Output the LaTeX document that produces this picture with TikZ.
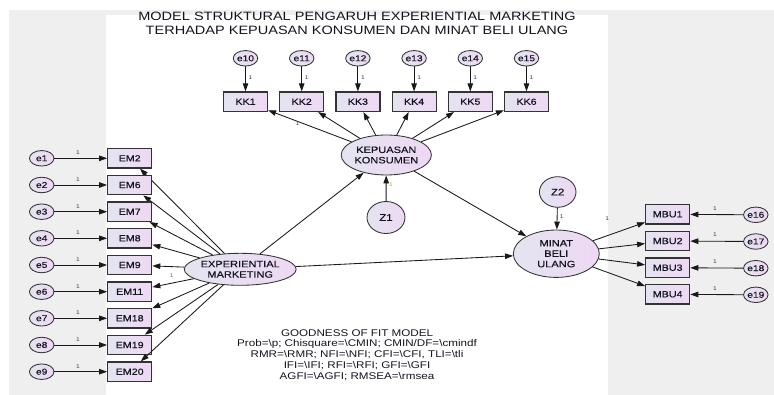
\documentclass[tikz,border=0pt]{standalone}
\usepackage{fontspec}
\setmainfont{Liberation Sans}[FakeStretch=1.2]
\newfontfamily\boxfont{Liberation Sans}[FakeStretch=1.2,FakeBold=0.3]
\usetikzlibrary{shapes.geometric,arrows.meta}
\definecolor{bg}{HTML}{EFEFEF}
\definecolor{fillL}{RGB}{228,228,240}
\definecolor{fillR}{RGB}{238,216,244}
\definecolor{edge}{HTML}{333333}
\definecolor{ink}{HTML}{141420}
\definecolor{oneblue}{HTML}{4A7AB8}
\definecolor{oneorange}{HTML}{C8A020}
\begin{document}
\begin{tikzpicture}[x=1pt,y=-1pt,
  box/.style={draw=edge,line width=1.2pt,left color=fillL,right color=fillR,minimum width=44pt,minimum height=19.5pt,inner sep=0pt,font=\boxfont\fontsize{8.9}{10}\selectfont,text=ink},
  lat/.style={ellipse,draw=edge,line width=0.85pt,left color=fillL,right color=fillR,inner sep=0pt,align=center,font=\boxfont\fontsize{9.2}{10.4}\selectfont,text=ink},
  err/.style={lat,minimum width=24.5pt,minimum height=15.5pt,font=\boxfont\fontsize{8.5}{9}\selectfont},
  arr/.style={-{Triangle[length=8pt,width=5.5pt]},line width=0.85pt,draw=black!90},
  one/.style={font=\fontsize{5.5}{6}\selectfont,text=black!75,inner sep=0pt}
]
\useasboundingbox (0,0) rectangle (774,395);
\fill[bg] (9,10) rectangle (774,395);
\fill[white] (106,15) rectangle (608,395);

\node[align=center,font=\fontsize{12.1}{14}\selectfont,text=ink] (title) at (357,23)
  {MODEL STRUKTURAL PENGARUH EXPERIENTIAL MARKETING\\TERHADAP KEPUASAN KONSUMEN DAN MINAT BELI ULANG};

% latent variables
\node[lat,minimum width=87.4pt,minimum height=40pt] (kep) at (386.3,155) {KEPUASAN\\KONSUMEN};
\node[lat,minimum width=86.6pt,minimum height=32pt] (exp) at (240.2,269.3) {EXPERIENTIAL\\MARKETING};
\node[lat,minimum width=86pt,minimum height=47.4pt] (minat) at (556.3,253.7) {MINAT\\BELI\\ULANG};
\node[lat,minimum width=38pt,minimum height=32pt,font=\boxfont\fontsize{9.5}{10}\selectfont] (z1) at (386,217.5) {Z1};
\node[lat,minimum width=36.6pt,minimum height=30.6pt,font=\boxfont\fontsize{9.5}{10}\selectfont] (z2) at (557.7,192) {Z2};

% KK indicators
\foreach \i/\e/\x in {1/10/245.5,2/11/301.7,3/12/357.9,4/13/414.1,5/14/470.3,6/15/526.5}{
  \node[box] (kk\i) at (\x,101.7) {KK\i};
  \node[err] (e\e) at (\x,58.3) {e\e};
  \draw[arr] (e\e) -- (kk\i);
  \node[one] at (\x+5,77.3) {1};
  \draw[arr] (kep) -- (kk\i);
}
\node[one] at (297.7,123.3) {1};

% EM indicators
\foreach \n/\e/\y in {2/1/158.3,6/2/185,7/3/211.7,8/4/238.3,9/5/265,11/6/291.7,18/7/318.3,19/8/345,20/9/371.7}{
  \node[box] (em\n) at (129.7,\y) {EM\n};
  \node[err] (e\e) at (41.7,\y) {e\e};
  \draw[arr] (e\e) -- (em\n);
  \node[one] at (78,\y-5.5) {1};
  \draw[arr] (exp) -- (em\n);
}
\node[one,text=oneblue] at (171.7,276) {1};

% MBU indicators
\foreach \n/\e/\y in {1/16/214.3,2/17/241,3/18/267.7,4/19/294.3}{
  \node[box] (mbu\n) at (667.7,\y) {MBU\n};
  \node[err] (e\e) at (755.8,\y+0.5) {e\e};
  \draw[arr] (e\e) -- (mbu\n);
  \node[one] at (715,\y-6) {1};
  \draw[arr] (minat) -- (mbu\n);
}
\node[one] at (607.3,219) {1};

% structural paths
\draw[arr] (exp) -- (kep);
\draw[arr] (exp) -- (minat);
\draw[arr] (kep) -- (minat);
\draw[arr] (z1) -- (kep);
\node[one,text=oneorange] at (391,184.3) {1};
\draw[arr] (z2) -- (minat);
\node[one] at (561.7,216.7) {1};

\node[align=center,font=\fontsize{9.7}{10.8}\selectfont,text=ink] (gof) at (357,355)
  {GOODNESS OF FIT MODEL\\
   Prob=\textbackslash p; Chisquare=\textbackslash CMIN; CMIN/DF=\textbackslash cmindf\\
   RMR=\textbackslash RMR; NFI=\textbackslash NFI; CFI=\textbackslash CFI, TLI=\textbackslash tli\\
   IFI=\textbackslash IFI; RFI=\textbackslash RFI; GFI=\textbackslash GFI\\
   AGFI=\textbackslash AGFI; RMSEA=\textbackslash rmsea};
\end{tikzpicture}
\end{document}
